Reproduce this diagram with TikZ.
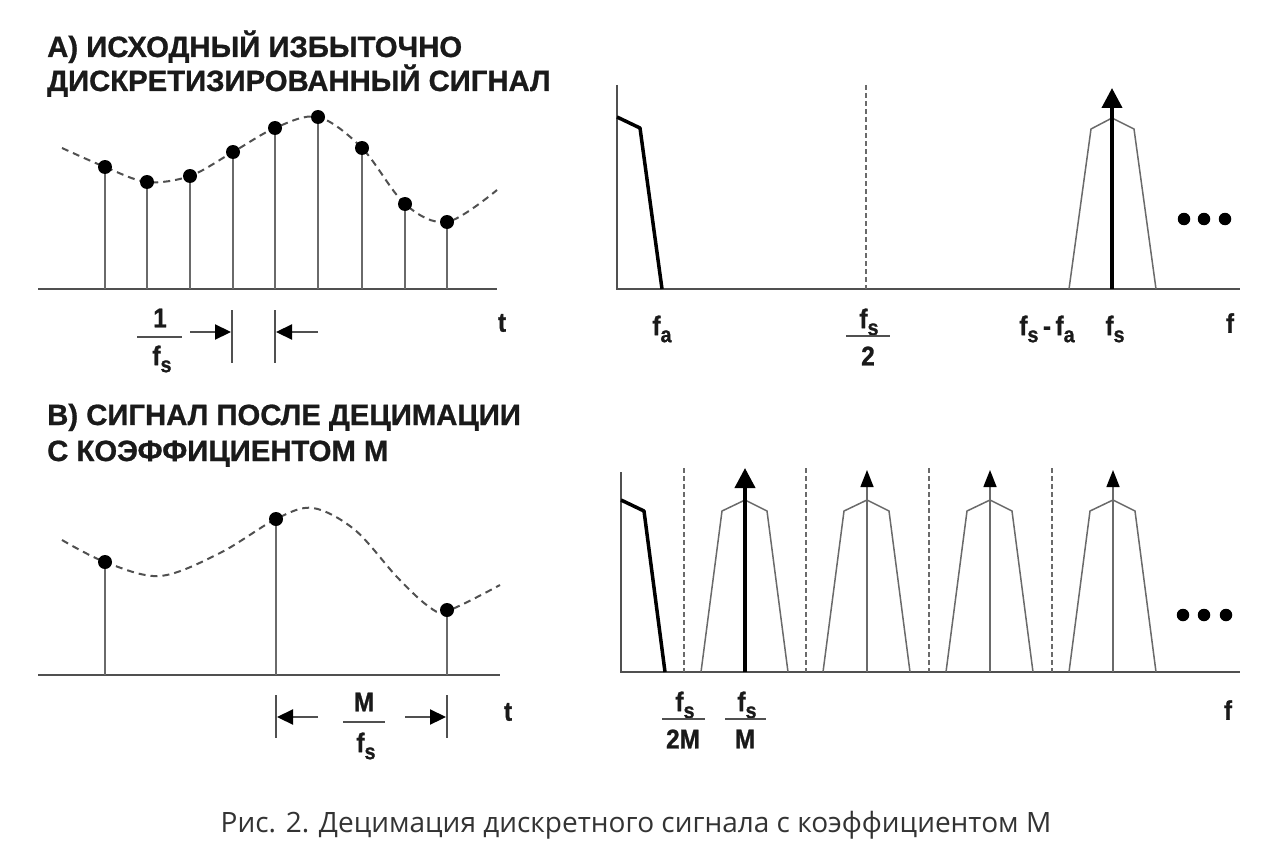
\documentclass[tikz,border=0pt]{standalone}
\usepackage{fontspec}
\setmainfont{Liberation Sans}
\newfontfamily\capfont{Open Sans}
\newfontfamily\titfont{Liberation Sans}[BoldFeatures={FakeBold=0.9}]
\newfontfamily\labfont{Liberation Sans}[FakeStretch=0.9, BoldFeatures={FakeBold=1.0}]
\usetikzlibrary{arrows.meta}
\definecolor{ink}{HTML}{1A1A1A}
\definecolor{ln}{HTML}{505050}
\definecolor{lt}{HTML}{6A6A6A}
\definecolor{capc}{HTML}{333333}
\newcommand\fsub[2]{#1\raisebox{-7pt}{\fontsize{22}{22}\selectfont #2}}
\tikzset{
  title/.style={font=\titfont\fontsize{29.3}{31}\selectfont\bfseries, text=ink, inner sep=0pt, anchor=base west},
  lab/.style={font=\labfont\fontsize{27}{29}\selectfont\bfseries, text=ink, inner sep=0pt},
  axisl/.style={draw=ln, line width=2.5pt},
  stem/.style={draw=ln!85, line width=2.3pt},
  sig/.style={draw=ln, line width=2pt, dash pattern=on 7pt off 5pt},
  dotn/.style={circle, fill=black, inner sep=0pt, minimum size=14pt},
  ell/.style={circle, fill=black, inner sep=0pt, minimum size=12.5pt},
  half/.style={draw=lt, line width=1.1pt, dash pattern=on 5pt off 3pt},
  img/.style={draw=lt, line width=1.5pt, line join=miter},
  base/.style={draw=black, line width=3.5pt, line join=round},
  bigarr/.style={draw=black, line width=4pt, -{Triangle[width=20pt,length=20pt]}},
  smallarr/.style={draw=lt, line width=1.5pt, -{Triangle[width=13pt,length=17pt,color=black,fill=black]}},
  dimarr/.style={draw=ln, line width=2.2pt, -{Triangle[width=15pt,length=16pt,color=black,fill=black]}},
  bar/.style={draw=ln, line width=2.2pt},
  fbar/.style={draw=ln, line width=1.8pt},
}
\begin{document}
\begin{tikzpicture}[x=1pt,y=-1pt]
\useasboundingbox (0,0) rectangle (1284,856);

% ---------- titles
\node[title] (tA1) at (47,57) {А) ИСХОДНЫЙ ИЗБЫТОЧНО};
\node[title] (tA2) at (47,91) {ДИСКРЕТИЗИРОВАННЫЙ СИГНАЛ};
\node[title] (tB1) at (47,425) {В) СИГНАЛ ПОСЛЕ ДЕЦИМАЦИИ};
\node[title] (tB2) at (47,461) {С КОЭФФИЦИЕНТОМ М};

% ---------- A: time domain
\draw[axisl] (38,289) -- (497,289);
\draw[sig] plot[smooth, tension=0.55] coordinates {(62,148) (105,167) (147,182) (190,176) (233,152) (275,128) (318,117) (362,148) (405,204) (447,222) (497,190)};
\foreach \i/\x/\y in {1/105/167,2/147/182,3/190/176,4/233/152,5/275/128,6/318/117,7/362/148,8/405/204,9/447/222} {
  \coordinate (ab\i) at (\x,289);
  \node[dotn] (ad\i) at (\x,\y) {};
  \draw[stem] (ab\i) -- (ad\i.south);
}
\node[lab] (one) at (160,318) {1};
\draw[fbar] (137,337) -- (182,337);
\node[lab] (fsA) at (162,359) {\fsub{f}{s}};
\coordinate (vb1t) at (232,310); \coordinate (vb1b) at (232,363);
\coordinate (vb2t) at (275,310); \coordinate (vb2b) at (275,363);
\draw[bar] (vb1t) -- (vb1b);
\draw[bar] (vb2t) -- (vb2b);
\coordinate (da1) at (190,332); \coordinate (da1e) at (231,332);
\coordinate (da2) at (318,332); \coordinate (da2e) at (276,332);
\draw[dimarr] (da1) -- (da1e);
\draw[dimarr] (da2) -- (da2e);
\node[lab] (tA) at (502,323) {t};

% ---------- A: spectrum
\draw[axisl] (617,85) -- (617,289) -- (1240,289);
\draw[half] (866,85) -- (866,289);
\draw[img] (1069,289) -- (1091,129) -- (1112,118) -- (1134,129) -- (1156,289);
\draw[base] (617,117) -- (640,128) -- (662,289);
\coordinate (fsA0) at (1112,289); \coordinate (fsAt) at (1112,88);
\draw[bigarr] (fsA0) -- (fsAt);
\node[ell] (e1) at (1184,219) {};
\node[ell] (e2) at (1204,219) {};
\node[ell] (e3) at (1225,219) {};
\node[lab] (fa) at (662,329) {\fsub{f}{a}};
\node[lab] (fsh) at (869,322) {\fsub{f}{s}};
\draw[fbar] (846,336) -- (890,336);
\node[lab] (two) at (868,356) {2};
\node[lab] (fsfa) at (1047,329) {\fsub{f}{s}\,-\,\fsub{f}{a}};
\node[lab] (fsl) at (1115,329) {\fsub{f}{s}};
\node[lab] (fA) at (1230,323) {f};

% ---------- B: time domain
\draw[axisl] (38,675) -- (500,675);
\draw[sig] plot[smooth, tension=0.55] coordinates {(62,540) (105,562) (160,576) (220,553) (276,519) (313,508) (355,530) (397,577) (428,606) (447,611) (500,585)};
\foreach \i/\x/\y in {1/105/562,2/276/519,3/447/610} {
  \coordinate (bb\i) at (\x,675);
  \node[dotn] (bd\i) at (\x,\y) {};
  \draw[stem] (bb\i) -- (bd\i.south);
}
\coordinate (vb3t) at (276,695); \coordinate (vb3b) at (276,738);
\coordinate (vb4t) at (447,695); \coordinate (vb4b) at (447,738);
\draw[bar] (vb3t) -- (vb3b);
\draw[bar] (vb4t) -- (vb4b);
\coordinate (db1) at (318,717); \coordinate (db1e) at (277,717);
\coordinate (db2) at (405,717); \coordinate (db2e) at (446,717);
\draw[dimarr] (db1) -- (db1e);
\draw[dimarr] (db2) -- (db2e);
\node[lab] (Mn) at (364,702) {M};
\draw[fbar] (343,722) -- (385,722);
\node[lab] (fsB) at (366,746) {\fsub{f}{s}};
\node[lab] (tB) at (508,712) {t};

% ---------- B: spectrum
\draw[axisl] (621,472) -- (621,672) -- (1240,672);
\foreach \x in {684,806,929,1052} { \draw[half] (\x,468) -- (\x,672); }
\foreach \c in {745,867,990,1113} {
  \draw[img] (\c-44,672) -- (\c-23,511) -- (\c,500) -- (\c+22,511) -- (\c+43,672);
}
\draw[base] (621,500) -- (644,511) -- (665,672);
\coordinate (m0) at (745,672); \coordinate (mt) at (745,468);
\draw[bigarr] (m0) -- (mt);
\foreach \c/\n in {867/a,990/b,1113/c} {
  \coordinate (s\n0) at (\c,672); \coordinate (s\n t) at (\c,470);
  \draw[smallarr] (s\n0) -- (s\n t);
}
\node[ell] (e4) at (1183,615) {};
\node[ell] (e5) at (1204,615) {};
\node[ell] (e6) at (1226,615) {};
\node[lab] (fs2M) at (685,705) {\fsub{f}{s}};
\draw[fbar] (662,719) -- (705,719);
\node[lab] (twoM) at (683,739) {2M};
\node[lab] (fsM) at (747,705) {\fsub{f}{s}};
\draw[fbar] (725,719) -- (766,719);
\node[lab] (Mb) at (745,739) {M};
\node[lab] (fB) at (1228,710) {f};

% ---------- caption
\node[font=\capfont\fontsize{28}{30}\selectfont, text=capc, inner sep=0pt, anchor=base] (cap) at (636,832) {Рис. 2. Децимация дискретного сигнала с коэффициентом М};
\end{tikzpicture}
\end{document}
